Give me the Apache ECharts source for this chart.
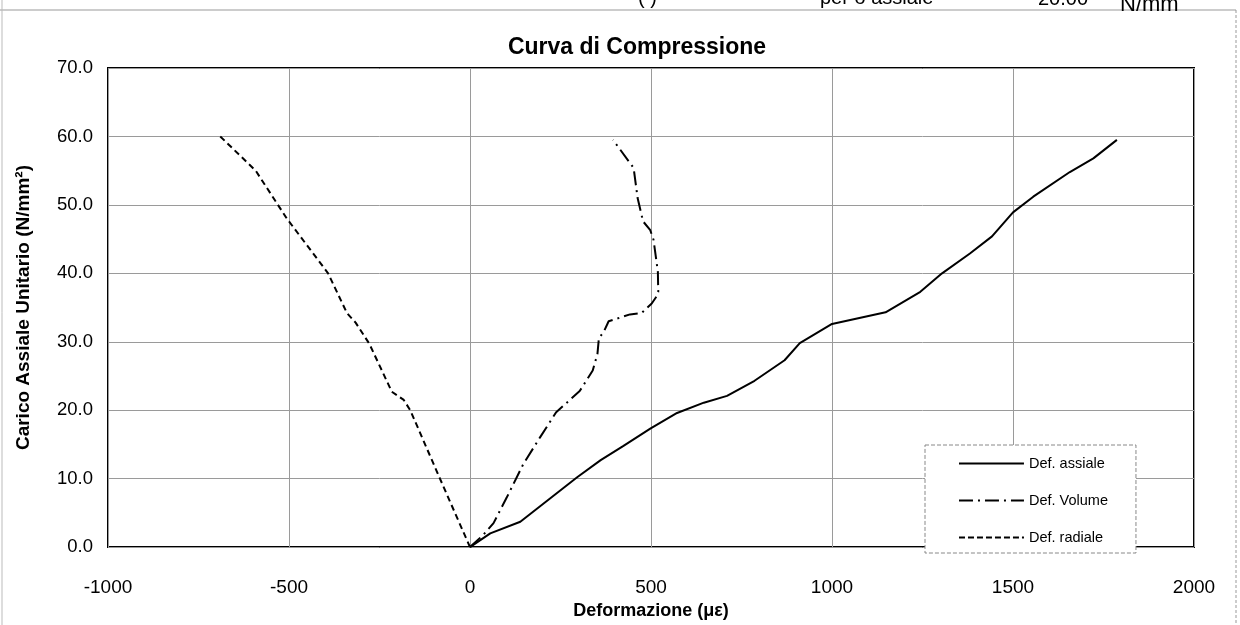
<!DOCTYPE html>
<html>
<head>
<meta charset="utf-8">
<script src="https://cdn.jsdelivr.net/npm/echarts@6/dist/echarts.min.js"></script>
<style>
html,body{margin:0;padding:0;background:#fff;}
#chart{width:1240px;height:625px;}
</style>
</head>
<body>
<div id="chart"></div>
<script>
// ---- data ----
const xTicks = [-1000, -500, 0, 500, 1000, 1500, 2000];
const yTicks = [0, 10, 20, 30, 40, 50, 60, 70];

const seriesNames = ['Def. assiale', 'Def. Volume', 'Def. radiale'];

const axialX = [0, 56, 139, 296, 361, 424, 498, 572, 646, 710, 786, 869, 911, 1000, 1148, 1244, 1304, 1381, 1442, 1500, 1556, 1657, 1722, 1787];
const axialY = [0, 2.0, 3.7, 10.2, 12.7, 14.8, 17.3, 19.6, 21.1, 22.1, 24.3, 27.3, 29.8, 32.6, 34.3, 37.3, 40.0, 42.9, 45.4, 48.9, 51.2, 54.8, 56.8, 59.5];

const volX = [0, 37, 65, 101, 147, 193, 238, 303, 339, 352, 356, 370, 383, 442, 474, 502, 515, 520, 519, 507, 498, 478, 463, 452, 395];
const volY = [0, 1.8, 3.5, 7.2, 12.1, 16.0, 19.7, 22.8, 25.8, 28.2, 30.5, 31.5, 33.0, 34.0, 34.2, 35.6, 36.6, 37.3, 40.2, 44.9, 46.3, 47.6, 51.0, 55.4, 59.5];

const radX = [0, -83, -165, -183, -216, -278, -316, -340, -392, -506, -592, -690];
const radY = [0, 10, 20, 21.5, 22.7, 29.7, 32.8, 34.2, 40.0, 48.0, 55.0, 60.0];

const headerTexts = ['( )', 'per o assiale', '20.00', 'N/mm'];

// ---- chart ----
const pairs = (xs, ys) => xs.map((x, i) => [x, ys[i]]);
const FONT = '"Liberation Sans", Arial, sans-serif';

// legend line-sample icons (65 x 14 box, 2px stroke in the middle)
function linePath(pattern) {
  const W = 65, y0 = 6, h = 2;
  let d = 'M0,0h0.01v0.01h-0.01Z M0,14h0.01v0.01h-0.01Z M65,0h0.01v0.01h-0.01Z';
  let x = 0, i = 0;
  if (!pattern) return 'path://' + d + ' M0,' + y0 + 'h' + W + 'v' + h + 'h-' + W + 'Z';
  while (x < W) {
    const len = Math.min(pattern[i % pattern.length], W - x);
    if (i % 2 === 0) d += ' M' + x + ',' + y0 + 'h' + len + 'v' + h + 'h-' + len + 'Z';
    x += pattern[i % pattern.length];
    i++;
  }
  return 'path://' + d;
}
const volDash = [14, 5, 2, 5];
const radDash = [6, 3];

const chart = echarts.init(document.getElementById('chart'), null, {renderer: 'canvas'});

const option = {
  backgroundColor: '#fff',
  animation: false,
  title: {
    text: 'Curva di Compressione',
    left: 632, top: 31, textAlign: 'center',
    textStyle: {fontFamily: FONT, fontSize: 23, fontWeight: 'bold', color: '#000'}
  },
  grid: {
    left: 108, right: 46, top: 68, bottom: 77,
    show: true, borderColor: '#000', borderWidth: 2, backgroundColor: 'transparent'
  },
  legend: {
    orient: 'vertical',
    left: 925, top: 445,
    padding: [11, 28, 8, 34],
    itemWidth: 65, itemHeight: 14, itemGap: 22,
    borderColor: '#888', borderWidth: 1, borderType: 'dashed',
    backgroundColor: '#fff',
    textStyle: {fontFamily: FONT, fontSize: 14.5, color: '#000'},
    itemStyle: {color: '#000', borderWidth: 0},
    data: [
      {name: seriesNames[0], icon: linePath(null)},
      {name: seriesNames[1], icon: linePath(volDash)},
      {name: seriesNames[2], icon: linePath(radDash)}
    ]
  },
  xAxis: {
    type: 'value', min: xTicks[0], max: xTicks[xTicks.length - 1], interval: 500,
    name: 'Deformazione (\u03bc\u03b5)', nameLocation: 'middle', nameGap: 50,
    nameTextStyle: {fontFamily: FONT, fontSize: 18, fontWeight: 'bold', color: '#000'},
    axisLine: {show: false}, axisTick: {show: false},
    axisLabel: {fontFamily: FONT, fontSize: 19, color: '#000', margin: 31,
      formatter: v => String(v)},
    splitLine: {show: true, lineStyle: {color: '#9a9a9a', width: 1}}
  },
  yAxis: {
    type: 'value', min: yTicks[0], max: yTicks[yTicks.length - 1], interval: 10,
    name: 'Carico Assiale Unitario (N/mm\u00b2)', nameLocation: 'middle', nameGap: 75,
    nameTextStyle: {fontFamily: FONT, fontSize: 19, fontWeight: 'bold', color: '#000'},
    axisLine: {show: false}, axisTick: {show: false},
    axisLabel: {fontFamily: FONT, fontSize: 18.5, color: '#000', margin: 15,
      formatter: v => v.toFixed(1)},
    splitLine: {show: true, lineStyle: {color: '#9a9a9a', width: 1}}
  },
  series: [
    {
      name: seriesNames[0], type: 'line', data: pairs(axialX, axialY),
      symbol: 'none', lineStyle: {color: '#000', width: 2, type: 'solid'},
      itemStyle: {color: '#000'}, z: 3
    },
    {
      name: seriesNames[1], type: 'line', data: pairs(volX, volY),
      symbol: 'none', lineStyle: {color: '#000', width: 2, type: volDash},
      itemStyle: {color: '#000'}, z: 3
    },
    {
      name: seriesNames[2], type: 'line', data: pairs(radX, radY),
      symbol: 'none', lineStyle: {color: '#000', width: 2, type: [6, 4]},
      itemStyle: {color: '#000'}, z: 3
    }
  ],
  graphic: [
    {type: 'line', shape: {x1: 0, y1: 10, x2: 1236, y2: 10}, style: {stroke: '#999', lineWidth: 1}},
    {type: 'line', shape: {x1: 1236, y1: 10, x2: 1236, y2: 625}, style: {stroke: '#999', lineWidth: 1, lineDash: [3, 2]}},
    {type: 'line', shape: {x1: 2, y1: 0, x2: 2, y2: 625}, style: {stroke: '#bbb', lineWidth: 1}},
    {type: 'text', left: 638, top: -12, style: {text: headerTexts[0], font: '20px ' + FONT, fill: '#000'}},
    {type: 'text', left: 820, top: -12, style: {text: headerTexts[1], font: '20px ' + FONT, fill: '#000'}},
    {type: 'text', left: 1038, top: -11, style: {text: headerTexts[2], font: '20px ' + FONT, fill: '#000'}},
    {type: 'text', left: 1120, top: -6, style: {text: headerTexts[3], font: '22px ' + FONT, fill: '#000'}}
  ]
};

chart.setOption(option);
</script>
</body>
</html>
